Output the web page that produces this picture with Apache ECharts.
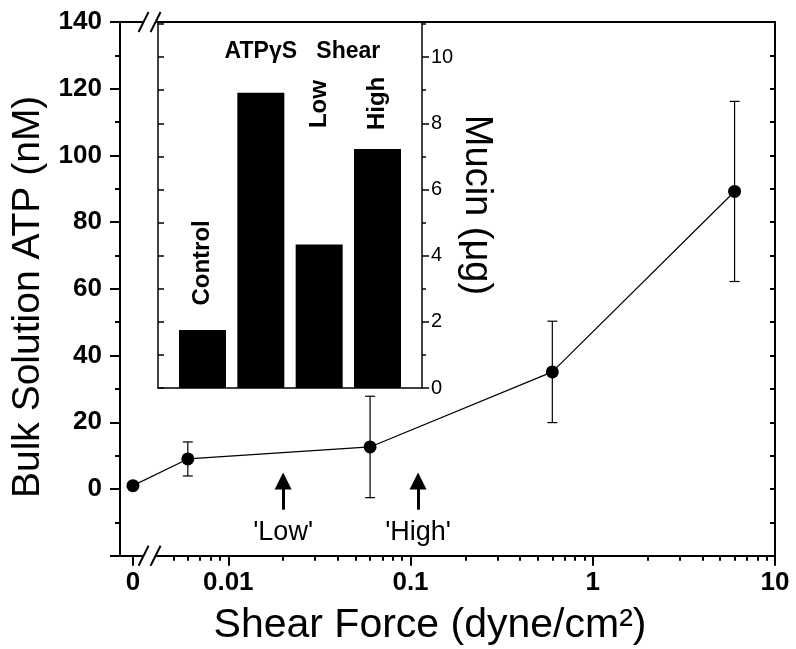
<!DOCTYPE html>
<html><head><meta charset="utf-8">
<script src="https://cdn.jsdelivr.net/npm/echarts@6/dist/echarts.min.js"></script>
<style>html,body{margin:0;padding:0;background:#fff}#c{width:796px;height:649px}</style>
</head><body><div id="c"></div>
<script>
// ---------- data ----------
const shearForce = [0, 0.006, 0.06, 0.6, 6];          // dyne/cm2
const bulkATP    = [1, 9, 12.6, 35.1, 89.2];          // nM
const atpError   = [0, 5.1, 15.2, 15.2, 27];          // nM (+/-)
const xTickValues = [0, 0.01, 0.1, 1, 10];
const xTickLabels = ['0', '0.01', '0.1', '1', '10'];
const xMinorTicks = [0.005, 0.006, 0.007, 0.008, 0.009,
                     0.02, 0.03, 0.04, 0.05, 0.06, 0.07, 0.08, 0.09,
                     0.2, 0.3, 0.4, 0.5, 0.6, 0.7, 0.8, 0.9,
                     2, 3, 4, 5, 6, 7, 8, 9];
const yTickLabels = [0, 20, 40, 60, 80, 100, 120, 140];
const arrowShear  = [0.02, 0.11];
const arrowLabels = ["'Low'", "'High'"];
const mucinCategories = ['Control', 'ATPγS', 'Low', 'High'];
const mucinValues     = [1.75, 8.92, 4.34, 7.22];     // µg
const mucinTicks      = [0, 2, 4, 6, 8, 10];

// ---------- layout constants (not data) ----------
const ZERO_AT = 0.003;       // where the "0" of the broken log axis is drawn
const BREAK_AT = 0.0037;     // axis break position
const X_MIN = -2.594, X_MAX = 1;
const INSET_MAX = 11.06;
const FONT = "'Liberation Sans', Arial, Helvetica, sans-serif";
const lx = v => v === 0 ? Math.log10(ZERO_AT) : Math.log10(v);
const ARROW_TAIL = -6.2, ARROW_HEAD = 2.4, ARROW_LABEL_Y = -13.1;
const xLabelFor = v => {
  for (let k = 0; k < xTickValues.length; k++) {
    if (Math.abs(lx(xTickValues[k]) - v) < 1e-6) return xTickLabels[k];
  }
  return '';
};

const chart = echarts.init(document.getElementById('c'), null, {renderer: 'canvas'});

const blk = '#000';
const option = {
  animation: false,
  backgroundColor: '#fff',
  textStyle: {fontFamily: FONT, color: blk},
  grid: [
    {left: 120, right: 21, top: 22, bottom: 93.3, containLabel: false, outerBoundsMode: 'none'},
    {left: 158, right: 374, top: 22, bottom: 261, containLabel: false, outerBoundsMode: 'none'}
  ],
  xAxis: [
    { // main bottom, major ticks + labels
      gridIndex: 0, type: 'value', min: X_MIN, max: X_MAX, position: 'bottom',
      axisLine: {show: true, onZero: false, lineStyle: {color: blk, width: 2}},
      axisTick: {show: true, length: 10, inside: false, lineStyle: {color: blk, width: 2},
                 customValues: xTickValues.map(lx)},
      axisLabel: {show: true, customValues: xTickValues.map(lx), margin: 14,
                  showMinLabel: true, showMaxLabel: true, hideOverlap: false,
                  formatter: v => xLabelFor(v),
                  fontSize: 26, fontWeight: 'bold', color: blk, fontFamily: FONT},
      splitLine: {show: false},
      name: 'Shear Force (dyne/cm²)', nameLocation: 'middle', nameGap: 49,
      nameTextStyle: {fontSize: 41, color: blk, fontFamily: FONT, padding: [0, 35, 0, 0]}
    },
    { // main top line
      gridIndex: 0, type: 'value', min: X_MIN, max: X_MAX, position: 'top',
      axisLine: {show: true, onZero: false, lineStyle: {color: blk, width: 2}},
      axisTick: {show: false}, axisLabel: {show: false}, splitLine: {show: false}
    },
    { // main bottom minor ticks
      gridIndex: 0, type: 'value', min: X_MIN, max: X_MAX, position: 'bottom', offset: 0,
      axisLine: {show: false, onZero: false},
      axisTick: {show: true, length: 5, lineStyle: {color: blk, width: 2},
                 customValues: xMinorTicks.map(lx)},
      axisLabel: {show: false}, splitLine: {show: false}
    },
    { // inset x
      gridIndex: 1, type: 'value', min: 0.237, max: 4.763, position: 'bottom',
      axisLine: {show: true, onZero: false, lineStyle: {color: blk, width: 1.5}},
      axisTick: {show: false}, axisLabel: {show: false}, splitLine: {show: false}
    }
  ],
  yAxis: [
    { // main left
      gridIndex: 0, type: 'value', min: -20, max: 140, interval: 20, position: 'left',
      axisLine: {show: true, onZero: false, lineStyle: {color: blk, width: 2}},
      axisTick: {show: true, length: 10, lineStyle: {color: blk, width: 2}},
      minorTick: {show: true, splitNumber: 2, length: 5, lineStyle: {color: blk, width: 2}},
      axisLabel: {margin: 18, fontSize: 26, fontWeight: 'bold', color: blk, fontFamily: FONT,
                  formatter: v => yTickLabels.indexOf(v) >= 0 ? String(v) : ''},
      splitLine: {show: false}, minorSplitLine: {show: false},
      name: 'Bulk Solution ATP (nM)', nameLocation: 'middle', nameGap: 51, nameRotate: 90,
      nameTextStyle: {fontSize: 39, color: blk, fontFamily: FONT, padding: [0, 16, 0, 0]}
    },
    { // main right
      gridIndex: 0, type: 'value', min: -20, max: 140, interval: 10, position: 'right',
      axisLine: {show: true, onZero: false, lineStyle: {color: blk, width: 2}},
      axisTick: {show: true, inside: true, length: 5, lineStyle: {color: blk, width: 2}},
      axisLabel: {show: false}, splitLine: {show: false}
    },
    { // inset right (labelled)
      gridIndex: 1, type: 'value', min: 0, max: INSET_MAX, interval: 2, position: 'right',
      axisLine: {show: true, onZero: false, lineStyle: {color: blk, width: 1.5}},
      axisTick: {show: true, length: 7, lineStyle: {color: blk, width: 1.5}},
      minorTick: {show: true, splitNumber: 2, length: 4, lineStyle: {color: blk, width: 1.5}},
      axisLabel: {margin: 9, fontSize: 20, color: blk, fontFamily: FONT,
                  formatter: v => mucinTicks.indexOf(v) >= 0 ? String(v) : ''},
      splitLine: {show: false},
      name: 'Mucin (μg)', nameLocation: 'middle', nameGap: 34, nameRotate: -90,
      nameTextStyle: {fontSize: 38, color: blk, fontFamily: FONT}
    },
    { // inset left
      gridIndex: 1, type: 'value', min: 0, max: INSET_MAX, interval: 1, position: 'left',
      axisLine: {show: true, onZero: false, lineStyle: {color: blk, width: 1.5}},
      axisTick: {show: true, inside: true, length: 6, lineStyle: {color: blk, width: 1.5}},
      axisLabel: {show: false}, splitLine: {show: false}
    }
  ],
  series: [
    { // error bars
      type: 'custom', xAxisIndex: 0, yAxisIndex: 0, z: 2,
      data: shearForce.map((x, i) => [lx(x), bulkATP[i], atpError[i]]),
      encode: {x: 0, y: 1},
      renderItem: (params, api) => {
        const x = api.value(0), y = api.value(1), e = api.value(2);
        if (!e) return null;
        const t = api.coord([x, y + e]), b = api.coord([x, y - e]);
        const w = 5, st = {stroke: blk, lineWidth: 1.2};
        return {type: 'group', children: [
          {type: 'line', shape: {x1: t[0], y1: t[1], x2: b[0], y2: b[1]}, style: st},
          {type: 'line', shape: {x1: t[0] - w, y1: t[1], x2: t[0] + w, y2: t[1]}, style: st},
          {type: 'line', shape: {x1: b[0] - w, y1: b[1], x2: b[0] + w, y2: b[1]}, style: st}
        ]};
      }
    },
    { // ATP line
      type: 'line', xAxisIndex: 0, yAxisIndex: 0, z: 3,
      data: shearForce.map((x, i) => [lx(x), bulkATP[i]]),
      symbol: 'circle', symbolSize: 13,
      itemStyle: {color: blk}, lineStyle: {color: blk, width: 1.2}
    },
    { // arrows and their labels
      type: 'scatter', xAxisIndex: 0, yAxisIndex: 0, symbolSize: 0, z: 3,
      itemStyle: {opacity: 1},
      data: arrowShear.map(x => [lx(x), ARROW_LABEL_Y]),
      label: {show: true, position: 'inside', fontSize: 27, color: blk, fontFamily: FONT,
              formatter: p => arrowLabels[p.dataIndex]},
      markLine: {
        silent: true, symbol: ['none', 'triangle'], symbolSize: [17, 17],
        lineStyle: {color: blk, width: 3, type: 'solid'}, label: {show: false},
        data: arrowShear.map(x => [{coord: [lx(x), ARROW_TAIL]}, {coord: [lx(x), ARROW_HEAD]}])
      }
    },
    { // inset bars
      type: 'bar', xAxisIndex: 3, yAxisIndex: 2, barWidth: 47,
      data: mucinValues.map((v, i) => [i + 1, v]),
      itemStyle: {color: blk}
    },
    { // inset labels
      type: 'scatter', xAxisIndex: 3, yAxisIndex: 2, symbolSize: 0, z: 5,
      itemStyle: {opacity: 1},
      label: {show: true, position: 'inside', fontSize: 23, fontWeight: 'bold', color: blk, fontFamily: FONT,
              formatter: p => p.data.text},
      data: [
        {value: [1, 3.78], text: mucinCategories[0], label: {rotate: 90, fontSize: 24}},
        {value: [2, 10.15], text: mucinCategories[1]},
        {value: [3.5, 10.15], text: 'Shear'},
        {value: [3, 8.58], text: mucinCategories[2], label: {rotate: 90, fontSize: 24}},
        {value: [4, 8.6], text: mucinCategories[3], label: {rotate: 90, fontSize: 24}}
      ]
    }
  ]
};
chart.setOption(option);

// axis break marks
function drawBreaks() {
  const xb = chart.convertToPixel({xAxisIndex: 0}, lx(BREAK_AT));
  const yTop = chart.convertToPixel({yAxisIndex: 0}, 140);
  const yBot = chart.convertToPixel({yAxisIndex: 0}, -20);
  const els = [];
  [yTop, yBot].forEach(y => {
    els.push({type: 'rect', shape: {x: xb - 6, y: y - 3, width: 12, height: 6},
              style: {fill: '#fff'}, z: 100});
    [-6, 6].forEach(d => {
      els.push({type: 'line', shape: {x1: xb + d - 5, y1: y + 10, x2: xb + d + 5, y2: y - 10},
                style: {stroke: blk, lineWidth: 2}, z: 101});
    });
  });
  chart.setOption({graphic: els});
}
drawBreaks();
</script></body></html>
